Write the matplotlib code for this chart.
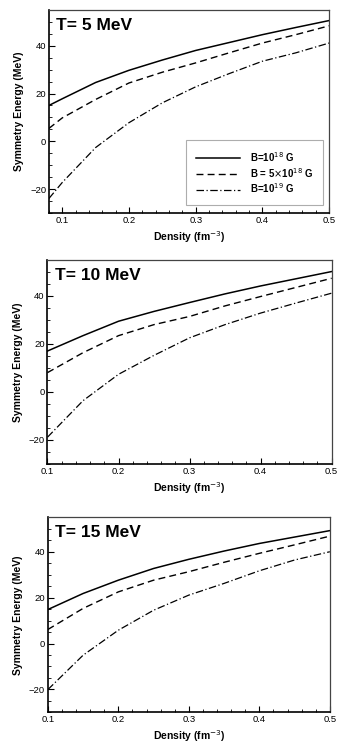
import numpy as np
import matplotlib
matplotlib.use("Agg")
import matplotlib.pyplot as plt
from matplotlib.ticker import MultipleLocator

plt.rcParams['font.family'] = ['Liberation Sans', 'DejaVu Sans']

density = [0.08, 0.1, 0.15, 0.2, 0.25, 0.3, 0.35, 0.4, 0.45, 0.5]
density_hi = [0.1, 0.15, 0.2, 0.25, 0.3, 0.35, 0.4, 0.45, 0.5]

# T = 5 MeV
t5_b18 = [15.0, 17.8, 24.6, 29.7, 34.0, 38.0, 41.3, 44.6, 47.6, 50.5]
t5_b5x18 = [5.4, 9.8, 17.5, 24.4, 28.9, 32.8, 37.0, 41.1, 44.6, 48.3]
t5_b19 = [-23.9, -17.2, -2.6, 7.8, 16.1, 22.8, 28.3, 33.5, 37.0, 41.1]

# T = 10 MeV
t10_b18 = [17.0, 23.4, 29.4, 33.5, 37.2, 40.8, 44.1, 47.1, 50.1]
t10_b5x18 = [8.0, 16.3, 23.4, 28.0, 31.4, 35.8, 39.7, 43.5, 47.3]
t10_b19 = [-18.9, -3.7, 7.3, 15.2, 22.5, 28.0, 32.8, 37.0, 41.1]

# T = 15 MeV
t15_b18 = [14.8, 21.8, 27.6, 32.7, 36.7, 40.3, 43.6, 46.4, 49.2]
t15_b5x18 = [6.1, 15.3, 22.5, 27.6, 31.3, 35.4, 39.3, 43.0, 46.8]
t15_b19 = [-20.1, -5.1, 5.8, 14.5, 21.1, 26.2, 31.7, 36.4, 40.0]

labels = [r'B=10$^{18}$ G', r'B = 5$\times$10$^{18}$ G', r'B=10$^{19}$ G']
titles = ['T= 5 MeV', 'T= 10 MeV', 'T= 15 MeV']

panels = [
    (density, [t5_b18, t5_b5x18, t5_b19], 0.08),
    (density_hi, [t10_b18, t10_b5x18, t10_b19], 0.1),
    (density_hi, [t15_b18, t15_b5x18, t15_b19], 0.1),
]
rects = [
    [0.137, 0.717, 0.785, 0.270],
    [0.133, 0.384, 0.796, 0.271],
    [0.134, 0.054, 0.790, 0.259],
]
styles = [dict(ls='-', lw=1.1), dict(ls=(0, (5, 3)), lw=1.0), dict(ls=(0, (6, 2, 1, 2)), lw=0.9)]

fig = plt.figure(figsize=(3.57, 7.53), dpi=100)

for i, ((x, ys, x0), rect) in enumerate(zip(panels, rects)):
    ax = fig.add_axes(rect)
    for y, st, lab in zip(ys, styles, labels):
        ax.plot(x, y, color='black', label=lab, **st)
    ax.set_xlim(x0, 0.5)
    ax.set_ylim(-30, 55)
    ax.xaxis.set_major_locator(MultipleLocator(0.1))
    ax.xaxis.set_minor_locator(MultipleLocator(0.02))
    ax.yaxis.set_major_locator(MultipleLocator(20))
    ax.yaxis.set_minor_locator(MultipleLocator(5))
    ax.tick_params(which='both', direction='in', top=False, right=False, labelsize=6.8, pad=2)
    ax.tick_params(which='major', length=4, width=0.8)
    ax.tick_params(which='minor', length=2, width=0.6)
    ax.set_xticklabels([f'{v:.1f}' for v in ax.get_xticks()])
    for s in ['left', 'bottom']:
        ax.spines[s].set_linewidth(1.2)
    for s in ['top', 'right']:
        ax.spines[s].set_linewidth(0.9)
        ax.spines[s].set_color('#444444')
    ax.set_xlabel('Density (fm$^{-3}$)', fontsize=7.5, fontweight='bold', labelpad=3)
    ax.set_ylabel('Symmetry Energy (MeV)', fontsize=7.5, fontweight='bold', labelpad=4)
    ax.text(0.025, 0.96, titles[i], transform=ax.transAxes, ha='left', va='top',
            fontsize=12.5, fontweight='bold')
    if i == 0:
        leg = ax.legend(loc='lower right', bbox_to_anchor=(0.985, 0.03),
                        prop={'weight': 'bold', 'size': 7}, frameon=True, fancybox=False,
                        handlelength=4.6, borderpad=1.0, labelspacing=0.2,
                        borderaxespad=0.2, handletextpad=1.0)
        leg.get_frame().set_edgecolor('#999999')
        leg.get_frame().set_linewidth(0.8)

fig.savefig('out.png', dpi=100)
